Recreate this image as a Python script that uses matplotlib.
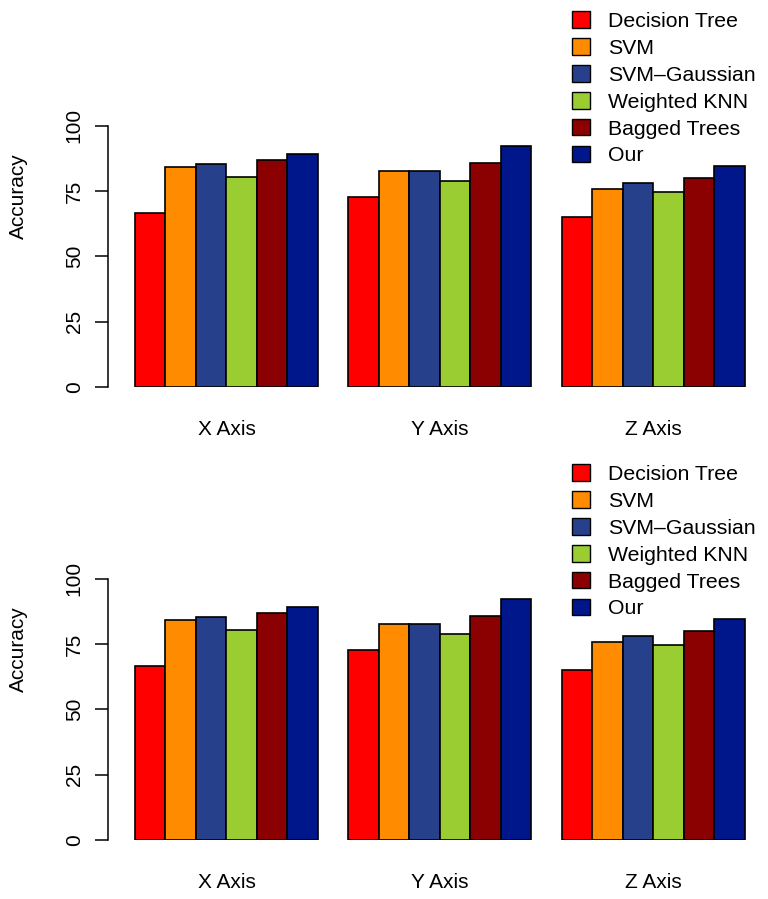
import numpy as np
import matplotlib
matplotlib.use("Agg")
import matplotlib.pyplot as plt
from matplotlib.patches import Patch

plt.rcParams['font.family'] = ['Liberation Sans', 'DejaVu Sans']

groups = ['X Axis', 'Y Axis', 'Z Axis']
methods = ['Decision Tree', 'SVM', 'SVM\u2013Gaussian', 'Weighted KNN', 'Bagged Trees', 'Our']
colors = ['#FF0000', '#FF8C00', '#27408B', '#9ACD32', '#8B0000', '#00178C']

# accuracy per method, for X / Y / Z axis
decision_tree = [66.7, 72.7, 65.0]
svm = [84.2, 82.5, 75.9]
svm_gaussian = [85.2, 82.6, 78.0]
weighted_knn = [80.2, 78.8, 74.5]
bagged_trees = [86.7, 85.8, 80.1]
ours = [89.0, 92.1, 84.4]

values = np.array([decision_tree, svm, svm_gaussian, weighted_knn, bagged_trees, ours])
yticks = [0, 25, 50, 75, 100]

W, H = 768, 899
fig = plt.figure(figsize=(W / 100, H / 100), dpi=100)


def draw_panel(ax):
    n_m = len(methods)
    for g in range(len(groups)):
        start = 1 + g * (n_m + 1)
        for m in range(n_m):
            ax.bar(start + m, values[m, g], width=1.0, align='edge',
                   color=colors[m], edgecolor='black', linewidth=1.2)
    centers = [1 + g * (n_m + 1) + n_m / 2 for g in range(len(groups))]
    ax.set_xlim(0.115, 21.69)
    ax.set_ylim(0, 146.1)
    for s in ['top', 'right', 'bottom']:
        ax.spines[s].set_visible(False)
    ax.spines['left'].set_bounds(0, 100)
    ax.spines['left'].set_linewidth(1.1)
    ax.set_yticks(yticks)
    ax.set_yticklabels([str(t) for t in yticks], rotation=90, va='center', fontsize=15)
    ax.tick_params(axis='y', length=9.5, width=1.1, pad=8)
    ax.set_xticks(centers)
    ax.set_xticklabels(groups, fontsize=15)
    ax.tick_params(axis='x', length=0, pad=24)
    ax.set_ylabel('Accuracy', fontsize=15)
    ax.yaxis.set_label_coords(-0.122, 0.5)
    handles = [Patch(facecolor=c, edgecolor='black', linewidth=1.0) for c in colors]
    ax.legend(handles, methods, loc='upper left', bbox_to_anchor=(0.705, 0.984),
              frameon=False, fontsize=15.3, borderpad=0, borderaxespad=0,
              handlelength=0.83, handleheight=0.83, handletextpad=0.85,
              labelspacing=0.34)


ax1 = fig.add_axes([108 / W, (H - 387) / H, 658 / W, 382 / H])
draw_panel(ax1)
ax2 = fig.add_axes([108 / W, (H - 840) / H, 658 / W, 382 / H])
draw_panel(ax2)

fig.savefig('out.png', dpi=100)
